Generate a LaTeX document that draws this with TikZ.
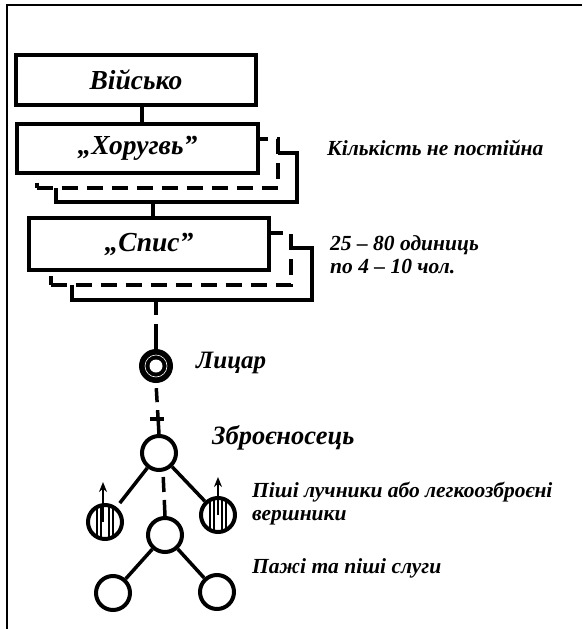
\documentclass[tikz,border=0pt]{standalone}
\usepackage{fontspec}
\setmainfont{Liberation Serif}
\usetikzlibrary{arrows.meta}
\begin{document}
\begin{tikzpicture}[x=1pt,y=-1pt,line join=miter]
\tikzset{card/.style={draw,fill=white,line width=4pt,inner sep=0pt,minimum width=241pt,minimum height=49pt,
    font=\bfseries\itshape\fontsize{27.5}{30}\selectfont},
  backcard/.style={card,dash pattern=on 16pt off 9pt},
  man/.style={circle,draw,fill=white,line width=4pt,inner sep=0pt,minimum size=34pt},
  archer/.style={man,path picture={\foreach \d in {-8,-4,4,8}
      \draw[line width=1.3pt] ([xshift=\d pt]path picture bounding box.north) -- ([xshift=\d pt]path picture bounding box.south);}},
  link/.style={line width=3.5pt},
  dlink/.style={line width=3.5pt,dash pattern=#1},
  arr/.style={line width=2pt,-{Stealth[length=10pt,width=8pt]}},
  lbl/.style={anchor=west,inner sep=0pt,align=left,font=\bfseries\itshape\fontsize{21.5}{23}\selectfont}}
\useasboundingbox (0,0) rectangle (582,629);
% frame
\draw[line width=1.6pt] (7,629) -- (7,5) -- (582,5);
% units
\node[card,minimum width=240pt,minimum height=50pt] (voisko) at (136,80) {Військо};
\node[card] (khor3) at (176.5,177.5) {};
\node[backcard] (khor2) at (157,163) {};
\node[card] (khor) at (137.5,148.5) {„Хоругвь”};
\node[card,minimum width=240pt,minimum height=52pt] (spys3) at (192,274) {};
\node[backcard,minimum width=240pt,minimum height=52pt] (spys2) at (170.5,259) {};
\node[card,minimum width=240pt,minimum height=52pt] (spys) at (149,244) {„Спис”};
% people
\node[circle,fill=black,inner sep=0pt,minimum size=34pt] (lytsar) at (156,366) {};
\fill[white] (lytsar) circle (6.5pt);
\draw[white,line width=0.6pt] (lytsar) circle (11pt);
\node[man] (zbroe) at (159,453) {};
\node[archer] (luchL) at (105,522) {};
\node[archer] (luchR) at (218,515) {};
\node[man] (pazh) at (165,535) {};
\node[man] (slugaL) at (113,593) {};
\node[man] (slugaR) at (217,592) {};
% links
\draw[link] ([xshift=6pt]voisko.south) -- ([xshift=6pt]voisko.south |- khor.north);
\draw[link] ([xshift=4pt]spys.north) -- ([xshift=4pt]spys.north |- khor3.south);
\draw[dlink={on 13pt off 9pt on 40pt}] (spys3.south -| lytsar) -- (lytsar.north);
\draw[dlink={on 0pt off 5pt on 14pt off 8pt on 40pt}] (lytsar.south) -- (zbroe.north);
\draw[line width=3.5pt] ([xshift=-9pt,yshift=15pt]zbroe.north) -- ([xshift=5pt,yshift=15pt]zbroe.north);
\draw[link,shorten >=5pt] (zbroe) -- (luchL);
\draw[link] (zbroe) -- (luchR);
\draw[dlink={on 0pt off 5pt on 15pt off 8pt on 40pt}] ([xshift=4pt]zbroe.south) -- (pazh.north);
\draw[link] (pazh) -- (slugaL);
\draw[link] (pazh) -- (slugaR);
\draw[arr] ([xshift=-2pt]luchL.center) -- ([xshift=-2pt,yshift=21pt]luchL.north);
\draw[arr] (luchR.center) -- ([yshift=19pt]luchR.north);
% labels
\node[lbl] (kilkist) at (327,148) {Кількість не постійна};
\node[lbl] (odynyts) at (330,255) {25 – 80 одиниць\\по 4 – 10 чол.};
\node[lbl,font=\bfseries\itshape\fontsize{25}{28}\selectfont] (lytsarlbl) at (196,363) {Лицар};
\node[lbl,font=\bfseries\itshape\fontsize{26.5}{30}\selectfont] (zbroelbl) at (212,438) {Зброєносець};
\node[lbl] (luchlbl) at (252,504) {Піші лучники або легкоозброєні\\вершники};
\node[lbl] (pazhlbl) at (252,568) {Пажі та піші слуги};
\end{tikzpicture}
\end{document}
